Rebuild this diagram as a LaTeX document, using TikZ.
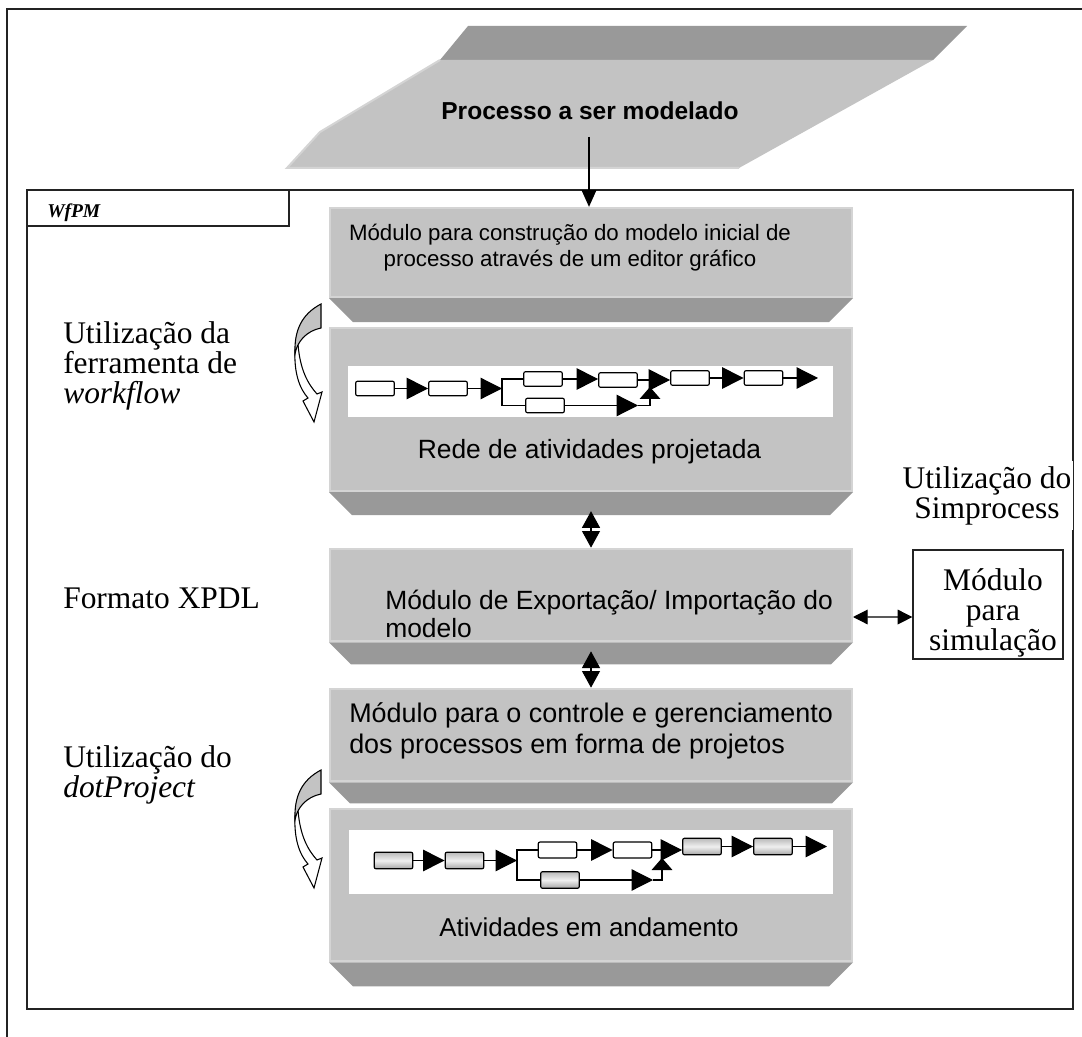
\documentclass[tikz,border=0pt]{standalone}
\usepackage{fontspec}
\setmainfont{Liberation Serif}
\newfontfamily\sansA{Liberation Sans}
\usetikzlibrary{arrows.meta}
\definecolor{faceG}{RGB}{195,195,195}
\definecolor{edgeG}{RGB}{212,212,212}
\definecolor{bevelG}{RGB}{153,153,153}
\definecolor{frameK}{RGB}{35,35,35}
\begin{document}
\begin{tikzpicture}[x=0.75pt,y=-0.75pt,
  module/.style={rectangle, fill=faceG, draw=edgeG, line width=1.5pt, inner sep=0, minimum width=391.5pt},
  lab/.style={inner sep=0, font=\fontsize{23.6pt}{22.5pt}\selectfont, align=left, anchor=base west},
  msans/.style={inner sep=0, font=\sansA\fontsize{#1}{22.5pt}\selectfont},
  nbox/.style={draw, rounded corners=1.5pt, line width=0.9pt, minimum width=29pt, minimum height=11pt, inner sep=0, fill=white},
  gbox/.style={nbox, minimum height=12.5pt, top color=gray!55, bottom color=gray!70, middle color=gray!12},
  narr/.style={-{Triangle[length=16pt,width=16pt]}, line width=0.9pt},
  uarr/.style={-{Triangle[length=9pt,width=15.5pt]}, line width=0.9pt},
  tarr/.style={-{Triangle[length=12.5pt,width=11pt]}, line width=0.9pt},
  darr/.style={{Triangle[length=12.5pt,width=13.5pt]}-{Triangle[length=12.5pt,width=13.5pt]}, line width=0.8pt},
  harr/.style={{Triangle[length=11pt,width=11pt]}-{Triangle[length=11pt,width=11pt]}, line width=0.9pt}
]
\useasboundingbox (0,0) rectangle (1082,1037);
\fill[white] (0,0) rectangle (1082,1037);
% outer frame
\draw[frameK, line width=1.1pt] (1083,9) -- (7,9) -- (7,1038);
% title parallelogram
\fill[bevelG] (468,26) -- (967,26) -- (933,60) -- (440,60) -- cycle;
\fill[faceG] (440,60) -- (933,60) -- (739,168) -- (287,168) -- (320,132) -- cycle;
\draw[edgeG, line width=1.5pt] (440,60) -- (320,132) -- (287,168) -- (739,168);
\node[inner sep=0, anchor=base, font=\sansA\bfseries\fontsize{18.4pt}{22pt}\selectfont] (title) at (590,120) {Processo a ser modelado};
% inner frame
\draw[frameK, line width=1pt] (27,190) rectangle (1073,1009);
\draw[frameK, line width=1pt] (27,190) rectangle (289,226);
\node[inner sep=0, anchor=base west, font=\fontsize{14.6pt}{16pt}\selectfont\bfseries\itshape] (wf) at (47,218) {WfPM};
% modules
\node[module, minimum height=67pt] (m1) at (591,252.5) {};
\node[module, minimum height=122.5pt] (m2) at (591,409.5) {};
\node[module, minimum height=69.5pt] (m3) at (591,595) {};
\node[module, minimum height=69.5pt] (m4) at (591,735) {};
\node[module, minimum height=114.5pt] (m5) at (591,885) {};
\fill[bevelG] (m1.south west) -- (m1.south east) -- ++(-24,24) -- ++(-476,0) -- cycle;
\fill[bevelG] (m2.south west) -- (m2.south east) -- ++(-23,23) -- ++(-478,0) -- cycle;
\fill[bevelG] (m3.south west) -- (m3.south east) -- ++(-22,22) -- ++(-480,0) -- cycle;
\fill[bevelG] (m4.south west) -- (m4.south east) -- ++(-21,21) -- ++(-482,0) -- cycle;
\fill[bevelG] (m5.south west) -- (m5.south east) -- ++(-24,24) -- ++(-476,0) -- cycle;
% module texts (base anchor = last line)
\node[msans=16.5pt, align=center, anchor=base, font=\sansA\fontsize{16.7pt}{19.5pt}\selectfont] (t1) at (570,267) {Módulo para construção do modelo inicial de\\processo através de um editor gráfico};
\node[msans=19.8pt, anchor=base] (t2) at (589.5,459) {Rede de atividades projetada};
\node[msans=19.8pt, align=left, anchor=base west, font=\sansA\fontsize{19.8pt}{20.5pt}\selectfont] (t3) at (385,637) {Módulo de Exportação/ Importação do\\modelo};
\node[msans=20.2pt, align=left, anchor=base west, font=\sansA\fontsize{20.2pt}{23pt}\selectfont] (t4) at (349,753) {Módulo para o controle e gerenciamento\\dos processos em forma de projetos};
\node[msans=19.4pt, anchor=base] (t5) at (589,936) {Atividades em andamento};
% network 1
\fill[white] (348,366) rectangle (833,417);
\node[nbox] (a1) at (375,388.5) {};
\node[nbox] (b1) at (448,388.5) {};
\node[nbox] (c1) at (543,379) {};
\node[nbox] (d1) at (618,380) {};
\node[nbox] (e1) at (690,378) {};
\node[nbox] (f1) at (763.5,378) {};
\node[nbox] (g1) at (545,405.5) {};
\coordinate (j1) at (502,388.5);
\coordinate (o1) at (818,378);
\coordinate (k1) at (638,405.5);
\coordinate (q1) at (650,387);
\draw[narr] (a1) -- (b1);
\draw[narr] (b1) -- (j1);
\draw[line width=0.9pt] (c1) -- (c1 -| j1) -- (g1 -| j1) -- (g1);
\draw[narr] (c1) -- (c1 -| d1.west);
\draw[narr] (d1) -- (d1 -| e1.west);
\draw[narr] (e1) -- (f1);
\draw[narr] (f1) -- (o1);
\draw[narr] (g1) -- (k1);
\draw[uarr] (k1) -| (q1);
% network 2
\fill[white] (349,830) rectangle (833,894);
\node[gbox] (a2) at (393.5,860.5) {};
\node[gbox] (b2) at (464.5,860.5) {};
\node[nbox, minimum height=12pt] (c2) at (557.5,850) {};
\node[nbox, minimum height=12pt] (d2) at (632.5,850) {};
\node[gbox] (e2) at (702,846.5) {};
\node[gbox] (f2) at (773,846.5) {};
\node[gbox] (g2) at (560,880) {};
\coordinate (j2) at (517,860.5);
\coordinate (o2) at (827,846.5);
\coordinate (k2) at (653,880);
\coordinate (q2) at (662,858);
\draw[narr] (a2) -- (b2);
\draw[narr] (b2) -- (j2);
\draw[line width=0.9pt] (c2) -- (c2 -| j2) -- (g2 -| j2) -- (g2);
\draw[narr] (c2) -- (d2);
\draw[narr] (d2) -- (d2 -| e2.west);
\draw[narr] (e2) -- (f2);
\draw[narr] (f2) -- (o2);
\draw[narr] (g2) -- (k2);
\draw[uarr] (k2) -| (q2);
% connectors between modules
\coordinate (ps) at (589,137);
\draw[tarr] (ps) -- (ps |- m1.north);
\draw[darr] ([yshift=-14.25pt]m2.south) -- (m3.north);
\draw[darr] ([yshift=-6.75pt]m3.south) -- (m4.north);
% left labels
\node[lab] (l1) at (63,404) {Utilização da\\ferramenta de\\\textit{workflow}};
\node[lab] (l2) at (63,608) {Formato XPDL};
\node[lab] (l3) at (63,797) {Utilização do\\\textit{dotProject}};
% Simprocess
\node[lab, align=center, anchor=base, fill=white, inner xsep=1pt, inner ysep=4pt] (l4) at (987,518) {Utilização do\\Simprocess};
\node[draw=frameK, line width=1pt, minimum width=112.5pt, minimum height=81.75pt, inner sep=0] (sim) at (988,604.5) {};
\node[lab, align=center, anchor=base] (simt) at (993,650) {Módulo\\para\\simulação};
\draw[harr] ([yshift=-16.5pt]m3.east) -- ([yshift=-9.4pt]sim.west);
% curved arrows
\foreach \dy/\nm in {0/ca1,466/ca2}{
 \begin{scope}[yshift=-0.75*\dy pt]
  \filldraw[fill=white, draw=black, line width=0.8pt] (295,350) .. controls (294,372) and (299,388) .. (308,398) -- (303,401) -- (314,422) -- (322,392) -- (317,394) .. controls (308,384) and (300,370) .. (298,344) -- cycle;
  \filldraw[fill=faceG, draw=black, line width=0.8pt] (321,304) .. controls (302,314) and (294,330) .. (295,354) .. controls (297,342) and (306,331) .. (321,328) -- cycle;
 \end{scope}
}
\end{tikzpicture}
\end{document}
